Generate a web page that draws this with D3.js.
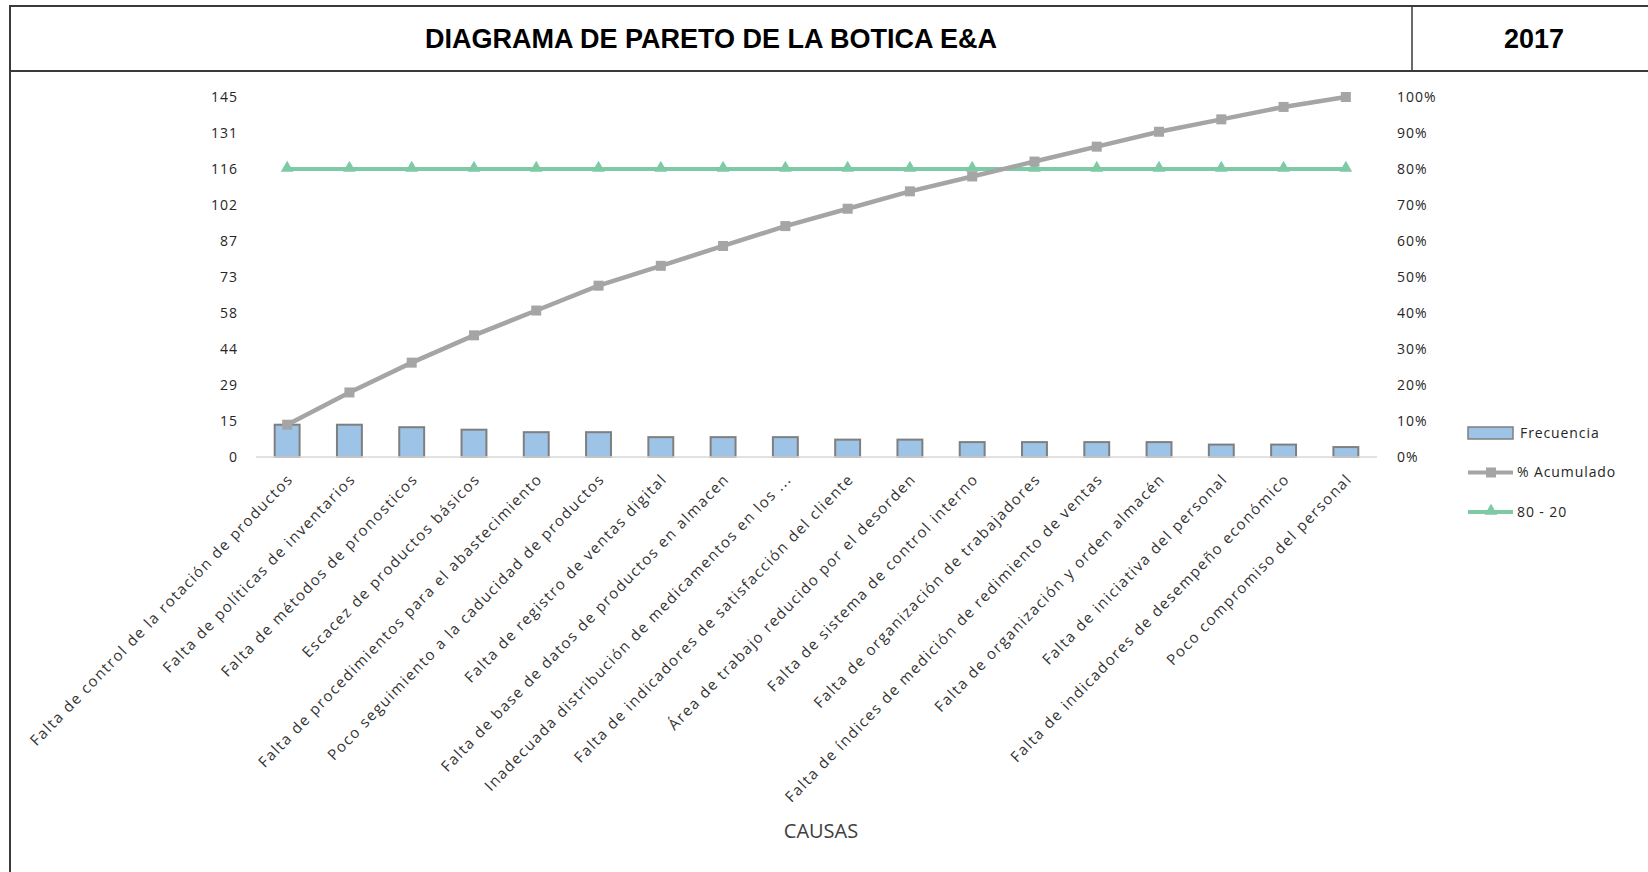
<!DOCTYPE html>
<html>
  <head>
    <meta charset="utf-8">
    <title>Diagrama de Pareto</title>
    <script src="https://d3js.org/d3.v7.min.js"></script>
    <style>
      body { margin: 0; background: #fff; }
      svg { display: block; }
      .tick text { font-family: "Open Sans", sans-serif; font-size: 14px; fill: #262626; letter-spacing: 1px; }
    </style>
  </head>
  <body>
    <div id="chart"></div>
    <script>
      // data
      var causas = [
        "Falta de control de la rotación de productos",
        "Falta de políticas de inventarios",
        "Falta de métodos de pronosticos",
        "Escacez de productos básicos",
        "Falta de procedimientos para el abastecimiento",
        "Poco seguimiento a la caducidad de productos",
        "Falta de registro de ventas digital",
        "Falta de base de datos de productos en almacen",
        "Inadecuada distribución de medicamentos en los ...",
        "Falta de indicadores de satisfacción del cliente",
        "Área de trabajo reducido por el desorden",
        "Falta de sistema de control interno",
        "Falta de organización de trabajadores",
        "Falta de índices de medición de redimiento de ventas",
        "Falta de organización y orden almacén",
        "Falta de iniciativa del personal",
        "Falta de indicadores de desempeño económico",
        "Poco compromiso del personal"
      ];
      var frecuencia = [13, 13, 12, 11, 10, 10, 8, 8, 8, 7, 7, 6, 6, 6, 6, 5, 5, 4];
      var meta = [0.8, 0.8, 0.8, 0.8, 0.8, 0.8, 0.8, 0.8, 0.8, 0.8, 0.8, 0.8, 0.8, 0.8, 0.8, 0.8, 0.8, 0.8];
      var freqTickLabels = ["0", "15", "29", "44", "58", "73", "87", "102", "116", "131", "145"];
      var pctTicks = [0, 0.1, 0.2, 0.3, 0.4, 0.5, 0.6, 0.7, 0.8, 0.9, 1];
      var legendLabels = ["Frecuencia", "% Acumulado", "80 - 20"];

      var width = 1648;
      var height = 872;

      var total = d3.sum(frecuencia);
      var acumulado = [];
      var run = 0;
      frecuencia.forEach(function(f) { run += f; acumulado.push(run / total); });

      var svg = d3.select("#chart")
        .append("svg")
        .attr("width", width)
        .attr("height", height);

      // frame + header
      var frame = svg.append("g").attr("stroke", "#3a3a3a").attr("stroke-width", 2);
      frame.append("line").attr("x1", 10).attr("x2", width).attr("y1", 6).attr("y2", 6);
      frame.append("line").attr("x1", 10).attr("x2", width).attr("y1", 71).attr("y2", 71);
      frame.append("line").attr("x1", 10).attr("x2", 10).attr("y1", 5).attr("y2", height);
      frame.append("line").attr("x1", 1412).attr("x2", 1412).attr("y1", 6).attr("y2", 71).attr("stroke-width", 1.5);

      svg.append("text")
        .attr("x", 711).attr("y", 48)
        .attr("text-anchor", "middle")
        .style("font-family", "'Liberation Sans', Arial, sans-serif")
        .style("font-weight", "bold")
        .style("font-size", "27px")
        .style("fill", "#000")
        .text("DIAGRAMA DE PARETO DE LA BOTICA E&A");

      svg.append("text")
        .attr("x", 1534).attr("y", 48)
        .attr("text-anchor", "middle")
        .style("font-family", "'Liberation Sans', Arial, sans-serif")
        .style("font-weight", "bold")
        .style("font-size", "27px")
        .style("fill", "#000")
        .text("2017");

      // scales
      var plotLeft = 256, plotRight = 1377, plotTop = 97, plotBottom = 457;

      var x = d3.scaleBand()
        .domain(causas)
        .range([plotLeft, plotRight])
        .paddingInner(0.6)
        .paddingOuter(0.3);

      var y = d3.scaleLinear().domain([0, total]).range([plotBottom, plotTop]);
      var yPct = d3.scaleLinear().domain([0, 1]).range([plotBottom, plotTop]);

      var cx = function(d, i) { return x(causas[i]) + x.bandwidth() / 2; };

      // axes
      var leftAxis = d3.axisLeft(y)
        .tickValues(d3.range(freqTickLabels.length).map(function(i) { return i * total / (freqTickLabels.length - 1); }))
        .tickFormat(function(d, i) { return freqTickLabels[i]; })
        .tickSize(0)
        .tickPadding(0);
      svg.append("g")
        .attr("transform", "translate(238,0)")
        .call(leftAxis)
        .call(function(g) { g.select(".domain").remove(); });

      var rightAxis = d3.axisRight(yPct)
        .tickValues(pctTicks)
        .tickFormat(d3.format(".0%"))
        .tickSize(0)
        .tickPadding(0);
      svg.append("g")
        .attr("transform", "translate(1397,0)")
        .call(rightAxis)
        .call(function(g) { g.select(".domain").remove(); });

      // bars
      svg.append("g").selectAll("rect")
        .data(frecuencia)
        .enter()
        .append("rect")
        .attr("x", function(d, i) { return x(causas[i]); })
        .attr("y", function(d) { return y(d); })
        .attr("width", x.bandwidth())
        .attr("height", function(d) { return y(0) - y(d); })
        .style("fill", "#9DC3E6")
        .style("stroke", "#7F7F7F")
        .style("stroke-width", 2);

      // category axis line
      svg.append("line")
        .attr("x1", plotLeft).attr("x2", plotRight)
        .attr("y1", plotBottom).attr("y2", plotBottom)
        .style("stroke", "#D9D9D9")
        .style("stroke-width", 1.5);

      // 80-20 line
      var metaLine = d3.line()
        .x(function(d, i) { return cx(d, i); })
        .y(function(d) { return yPct(d); });
      svg.append("path")
        .datum(meta)
        .attr("d", metaLine)
        .style("fill", "none")
        .style("stroke", "#7DCAA5")
        .style("stroke-width", 4);
      var tri = d3.symbol().type(d3.symbolTriangle).size(70);
      svg.append("g").selectAll("path")
        .data(meta)
        .enter()
        .append("path")
        .attr("d", tri)
        .attr("transform", function(d, i) { return "translate(" + cx(d, i) + "," + (yPct(d) - 1) + ")"; })
        .style("fill", "#7DCAA5");

      // cumulative line
      var acumLine = d3.line()
        .x(function(d, i) { return cx(d, i); })
        .y(function(d) { return yPct(d); });
      svg.append("path")
        .datum(acumulado)
        .attr("d", acumLine)
        .style("fill", "none")
        .style("stroke", "#A5A5A5")
        .style("stroke-width", 4.5);
      svg.append("g").selectAll("rect")
        .data(acumulado)
        .enter()
        .append("rect")
        .attr("x", function(d, i) { return cx(d, i) - 5; })
        .attr("y", function(d) { return yPct(d) - 5; })
        .attr("width", 10)
        .attr("height", 10)
        .style("fill", "#A5A5A5");

      // category labels
      svg.append("g").selectAll("text")
        .data(causas)
        .enter()
        .append("text")
        .attr("transform", function(d, i) { return "translate(" + (cx(d, i) + 7) + "," + 480 + ") rotate(-46)"; })
        .attr("text-anchor", "end")
        .style("font-family", "'Open Sans', sans-serif")
        .style("font-size", "15px")
        .style("letter-spacing", "1.5px")
        .style("fill", "#333")
        .text(function(d) { return d; });

      svg.append("text")
        .attr("x", 821).attr("y", 838)
        .attr("text-anchor", "middle")
        .style("font-family", "'Open Sans', sans-serif")
        .style("font-size", "20px")
        .style("fill", "#404040")
        .text("CAUSAS");

      // legend
      var legend = svg.append("g").attr("transform", "translate(1468,433)");
      var items = legend.selectAll("g")
        .data(legendLabels)
        .enter()
        .append("g")
        .attr("transform", function(d, i) { return "translate(0," + (i * 39.5) + ")"; });

      items.filter(function(d, i) { return i === 0; })
        .append("rect")
        .attr("x", 0).attr("y", -6).attr("width", 45).attr("height", 12)
        .style("fill", "#9DC3E6").style("stroke", "#7F7F7F").style("stroke-width", 1.5);

      items.filter(function(d, i) { return i > 0; })
        .append("line")
        .attr("x1", 0).attr("x2", 45).attr("y1", 0).attr("y2", 0)
        .style("stroke", function(d, i) { return i === 0 ? "#A5A5A5" : "#7DCAA5"; })
        .style("stroke-width", 4);

      items.filter(function(d, i) { return i === 1; })
        .append("rect")
        .attr("x", 18).attr("y", -5).attr("width", 10).attr("height", 10)
        .style("fill", "#A5A5A5");

      items.filter(function(d, i) { return i === 2; })
        .append("path")
        .attr("d", tri)
        .attr("transform", "translate(23,-1)")
        .style("fill", "#7DCAA5");

      items.append("text")
        .attr("x", function(d, i) { return i === 0 ? 52 : 49; })
        .attr("dy", "0.35em")
        .style("font-family", "'Open Sans', sans-serif")
        .style("font-size", "14px")
        .style("letter-spacing", "0.9px")
        .style("fill", "#262626")
        .text(function(d) { return d; });
    </script>
  </body>
</html>
